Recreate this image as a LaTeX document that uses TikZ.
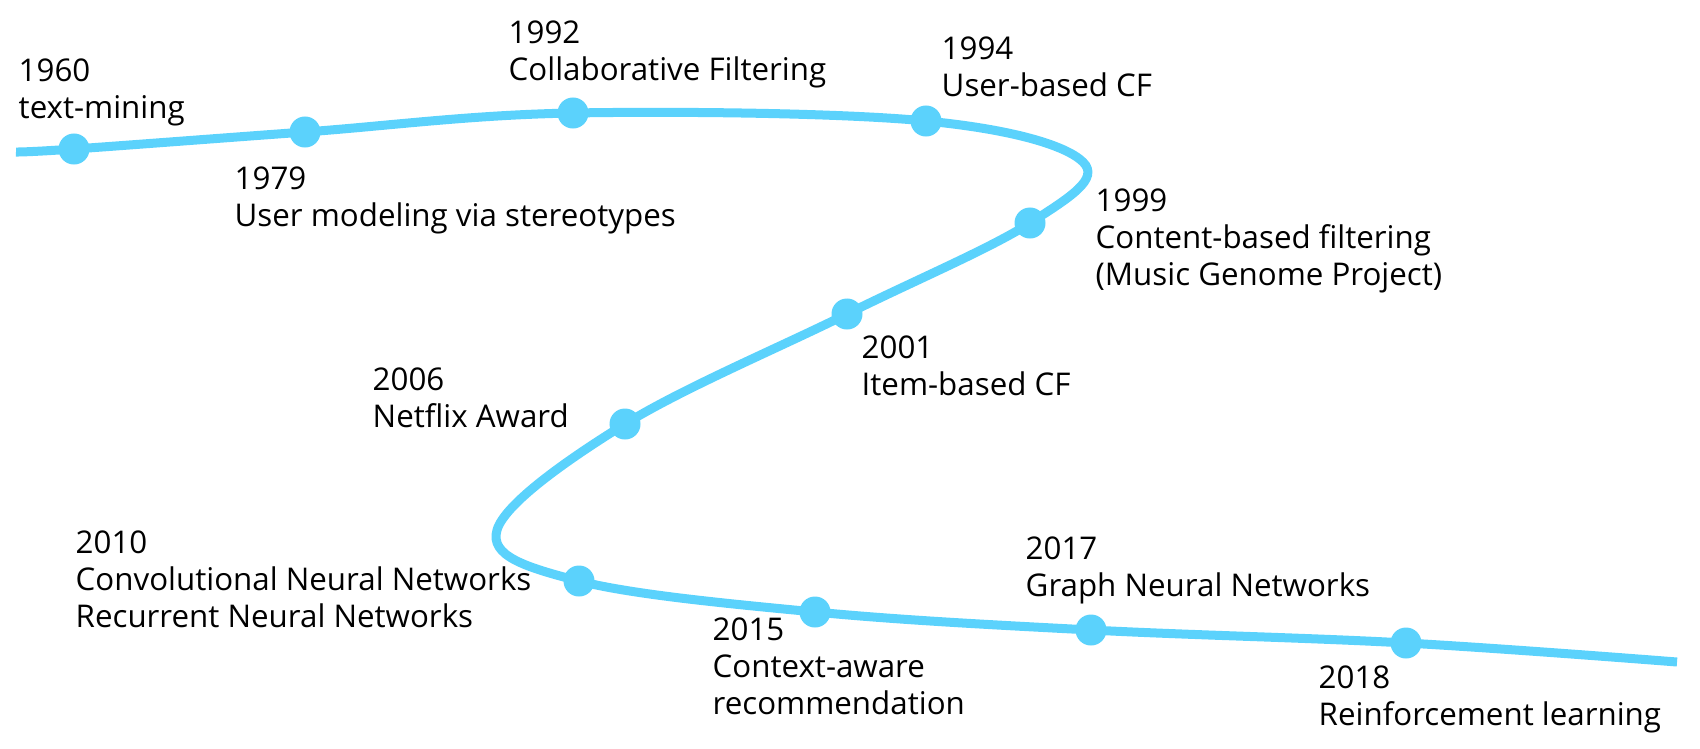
\documentclass[tikz,border=0pt]{standalone}
\usepackage{fontspec}
\setmainfont{Open Sans}
\definecolor{lineblue}{RGB}{91,210,252}
\begin{document}
\begin{tikzpicture}[x=0.01cm,y=-0.01cm,
    milestone/.style={anchor=north west,align=left,inner sep=0pt,font=\fontsize{8.9}{10.5}\selectfont},
    event/.style={circle,fill=lineblue,minimum size=0.31cm,inner sep=0pt}]
    \useasboundingbox (0,0) rectangle (1700,748);
    \coordinate (start) at (16,152);
    \coordinate (c1960) at (74,149);
    \coordinate (c1979) at (305,132);
    \coordinate (c1992) at (573,113);
    \coordinate (c1994) at (926,121);
    \coordinate (turnA) at (1083,162);
    \coordinate (c1999) at (1030,223);
    \coordinate (c2001) at (847,314);
    \coordinate (c2006) at (625,424);
    \coordinate (turnB) at (497,530);
    \coordinate (c2010) at (579,581);
    \coordinate (c2015) at (815,612);
    \coordinate (c2017) at (1091,630);
    \coordinate (c2018) at (1406,643);
    \coordinate (finish) at (1677,662);
    \draw[lineblue,line width=0.09cm] plot[smooth,tension=0.6] coordinates {(start) (c1960) (c1979) (c1992) (c1994) (turnA) (c1999) (c2001) (c2006) (turnB) (c2010) (c2015) (c2017) (c2018) (finish)};
    \foreach \yr in {1960,1979,1992,1994,1999,2001,2006,2010,2015,2017,2018}
        \node[event] (d\yr) at (c\yr) {};
    \node[milestone] (t1960) at (18,58) {1960\\text-mining};
    \node[milestone] (t1979) at (234,166) {1979\\User modeling via stereotypes};
    \node[milestone] (t1992) at (508,20) {1992\\Collaborative Filtering};
    \node[milestone] (t1994) at (941,36) {1994\\User-based CF};
    \node[milestone] (t1999) at (1095,188) {1999\\Content-based filtering\\(Music Genome Project)};
    \node[milestone] (t2001) at (861,335) {2001\\Item-based CF};
    \node[milestone] (t2006) at (372,367) {2006\\Netflix Award};
    \node[milestone] (t2010) at (75,530) {2010\\Convolutional Neural Networks\\Recurrent Neural Networks};
    \node[milestone] (t2015) at (712,617) {2015\\Context-aware\\recommendation};
    \node[milestone] (t2017) at (1025,536) {2017\\Graph Neural Networks};
    \node[milestone] (t2018) at (1318,665) {2018\\Reinforcement learning};
\end{tikzpicture}
\end{document}
